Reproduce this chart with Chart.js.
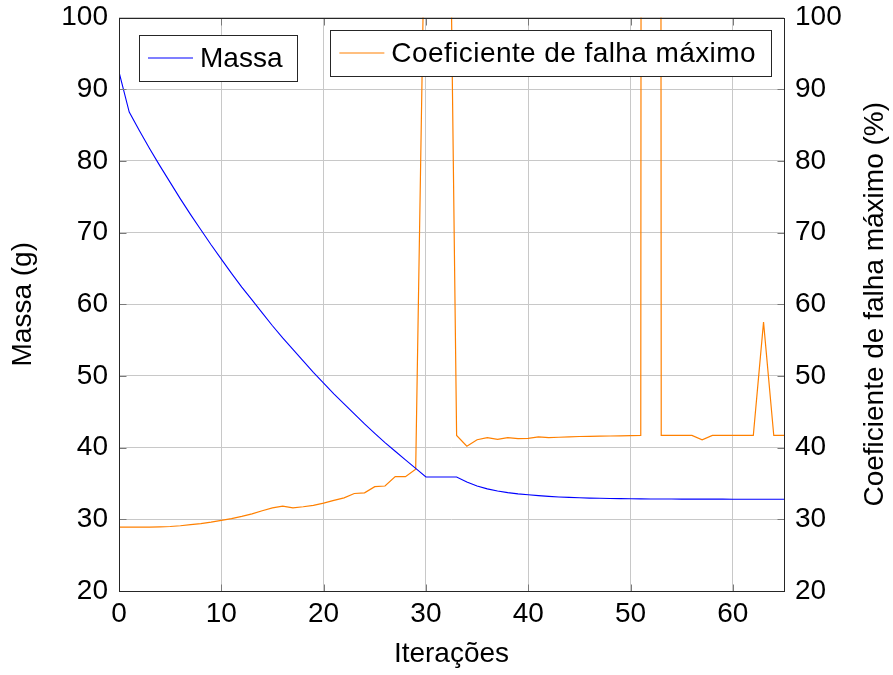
<!DOCTYPE html>
<html>
<head>
<meta charset="utf-8">
<script src="https://cdn.jsdelivr.net/npm/chart.js@4.4.1/dist/chart.umd.min.js"></script>
<style>
  html, body { margin: 0; padding: 0; background: #fff; }
  canvas { display: block; }
</style>
</head>
<body>
<canvas id="myChart" width="893" height="675"></canvas>
<script>
// iteration number (x axis)
const iteracoes = [0, 1, 2, 3, 4, 5, 6, 7, 8, 9, 10, 11, 12, 13, 14, 15, 16, 17, 18, 19,
  20, 21, 22, 23, 24, 25, 26, 27, 28, 29, 30, 31, 32, 33, 34, 35, 36, 37, 38, 39,
  40, 41, 42, 43, 44, 45, 46, 47, 48, 49, 50, 51, 52, 53, 54, 55, 56, 57, 58, 59,
  60, 61, 62, 63, 64, 65];

// mass in grams (left axis)
const massa = [92.4, 86.8, 84.2, 81.7, 79.3, 77.0, 74.7, 72.5, 70.4, 68.3,
  66.3, 64.3, 62.4, 60.6, 58.8, 57.0, 55.3, 53.7, 52.1, 50.5,
  49.0, 47.5, 46.1, 44.7, 43.3, 42.0, 40.7, 39.5, 38.3, 37.1,
  35.9, 35.9, 35.9, 35.9, 35.2, 34.65, 34.25, 33.95, 33.72, 33.55,
  33.42, 33.3, 33.2, 33.12, 33.06, 33.0, 32.96, 32.93, 32.9, 32.88,
  32.86, 32.85, 32.84, 32.83, 32.83, 32.82, 32.82, 32.81, 32.81, 32.81,
  32.8, 32.8, 32.8, 32.8, 32.8, 32.8];

// max failure coefficient in % (right axis), spikes go past the top
const coeficiente = [28.9, 28.9, 28.9, 28.92, 28.95, 29.0, 29.1, 29.25, 29.4, 29.6,
  29.85, 30.1, 30.4, 30.75, 31.2, 31.6, 31.85, 31.6, 31.75, 31.95,
  32.25, 32.65, 33.0, 33.6, 33.7, 34.55, 34.65, 35.95, 35.95, 37.0,
  125, 150, 160, 41.7, 40.2, 41.1, 41.4, 41.15, 41.4, 41.25,
  41.3, 41.5, 41.4, 41.45, 41.5, 41.55, 41.58, 41.6, 41.62, 41.65,
  41.68, 41.7, 2400, 41.7, 41.7, 41.7, 41.7, 41.1, 41.7, 41.7,
  41.7, 41.7, 41.7, 57.5, 41.7, 41.7];

const nomeMassa = 'Massa';
const nomeCoef = 'Coeficiente de falha máximo';
const tituloX = 'Iterações';
const tituloY = 'Massa (g)';
const tituloY1 = 'Coeficiente de falha máximo (%)';

const corMassa = '#0000ff';
const corCoef = '#ff8000';
const corGrade = '#c8c8c8';

Chart.defaults.font.family = '"Liberation Sans", Arial, Helvetica, sans-serif';
Chart.defaults.font.size = 28;
Chart.defaults.color = '#000';

// frame, inner tick marks, the two boxed legends and the right title
const molduraPlugin = {
  id: 'moldura',
  afterDraw(chart) {
    const ctx = chart.ctx;
    const a = chart.chartArea;
    const sx = chart.scales.x, sy = chart.scales.y, sy1 = chart.scales.y1;
    const L = Math.round(a.left) + 0.5, R = Math.round(a.right) + 0.5;
    const T = Math.round(a.top) + 0.5, B = Math.round(a.bottom) + 0.5;
    ctx.save();

    ctx.strokeStyle = '#7a7a7a';
    ctx.lineWidth = 1;
    ctx.beginPath();
    sx.ticks.forEach(t => {
      const px = Math.round(sx.getPixelForValue(t.value)) + 0.5;
      ctx.moveTo(px, B); ctx.lineTo(px, B - 7);
      ctx.moveTo(px, T); ctx.lineTo(px, T + 7);
    });
    sy.ticks.forEach(t => {
      const py = Math.round(sy.getPixelForValue(t.value)) + 0.5;
      ctx.moveTo(L, py); ctx.lineTo(L + 7, py);
    });
    sy1.ticks.forEach(t => {
      const py = Math.round(sy1.getPixelForValue(t.value)) + 0.5;
      ctx.moveTo(R, py); ctx.lineTo(R - 7, py);
    });
    ctx.stroke();

    ctx.strokeStyle = '#262626';
    ctx.strokeRect(L, T, R - L, B - T);

    // legends
    ctx.font = '28px "Liberation Sans", Arial, Helvetica, sans-serif';
    const caixa = (texto, cor, x, y, alinhaDireita, espaco) => {
      ctx.letterSpacing = espaco + 'px';
      const w = 9 + 45 + 7 + ctx.measureText(texto).width + 15;
      const h = 46;
      const bx = alinhaDireita ? x - w : x;
      ctx.fillStyle = '#fff';
      ctx.fillRect(bx, y, w, h);
      ctx.strokeStyle = '#262626';
      ctx.lineWidth = 1;
      ctx.strokeRect(Math.round(bx) + 0.5, Math.round(y) + 0.5, Math.round(w), h);
      const cy = y + h / 2;
      ctx.strokeStyle = cor;
      ctx.lineWidth = 1.2;
      ctx.beginPath();
      ctx.moveTo(bx + 9, cy); ctx.lineTo(bx + 54, cy);
      ctx.stroke();
      ctx.fillStyle = '#000';
      ctx.textAlign = 'left';
      ctx.textBaseline = 'alphabetic';
      ctx.fillText(texto, bx + 61, cy + 8.5);
      ctx.letterSpacing = '0px';
    };
    caixa(nomeMassa, corMassa, a.left + 20, a.top + 17.5, false, 0);
    caixa(nomeCoef, corCoef, a.right - 13, a.top + 12.5, true, 0.42);

    // right axis title, reads bottom to top
    ctx.translate(875, (a.top + a.bottom) / 2);
    ctx.rotate(-Math.PI / 2);
    ctx.fillStyle = '#000';
    ctx.textAlign = 'center';
    ctx.textBaseline = 'middle';
    ctx.fillText(tituloY1, 0, 0);
    ctx.restore();
  }
};

const ctx = document.getElementById('myChart');

const myChart = new Chart(ctx, {
  type: 'line',
  data: {
    datasets: [{
      label: nomeMassa,
      data: iteracoes.map((it, i) => ({ x: it, y: massa[i] })),
      borderColor: corMassa,
      borderWidth: 1.1,
      pointRadius: 0,
      tension: 0,
      yAxisID: 'y'
    }, {
      label: nomeCoef,
      data: iteracoes.map((it, i) => ({ x: it, y: coeficiente[i] })),
      borderColor: corCoef,
      borderWidth: 1.2,
      pointRadius: 0,
      tension: 0,
      yAxisID: 'y1'
    }]
  },
  options: {
    responsive: false,
    animation: false,
    devicePixelRatio: 1,
    layout: { padding: { top: 17.5, left: 0, right: 0, bottom: 0 } },
    plugins: {
      legend: { display: false },
      tooltip: { enabled: false }
    },
    scales: {
      x: {
        type: 'linear',
        min: 0,
        max: 65,
        border: { display: false },
        grid: { color: corGrade, drawTicks: false },
        ticks: { stepSize: 10, includeBounds: false, padding: 6, maxRotation: 0 },
        title: { display: true, text: tituloX, padding: { top: 0, bottom: 4 } },
        afterFit: s => { s.height = 84; s.paddingLeft = 0; s.paddingRight = 0; }
      },
      y: {
        type: 'linear',
        position: 'left',
        min: 20,
        max: 100,
        border: { display: false },
        grid: { color: corGrade, drawTicks: false },
        ticks: { stepSize: 10, padding: 11 },
        title: { display: true, text: tituloY, padding: { top: 6, bottom: 0 } },
        afterFit: s => { s.width = 119; s.paddingTop = 0; s.paddingBottom = 0; }
      },
      y1: {
        type: 'linear',
        position: 'right',
        min: 20,
        max: 100,
        border: { display: false },
        grid: { drawOnChartArea: false, drawTicks: false },
        ticks: { stepSize: 10, padding: 11 },
        afterFit: s => { s.width = 109; s.paddingTop = 0; s.paddingBottom = 0; }
      }
    }
  },
  plugins: [molduraPlugin]
});
</script>
</body>
</html>
